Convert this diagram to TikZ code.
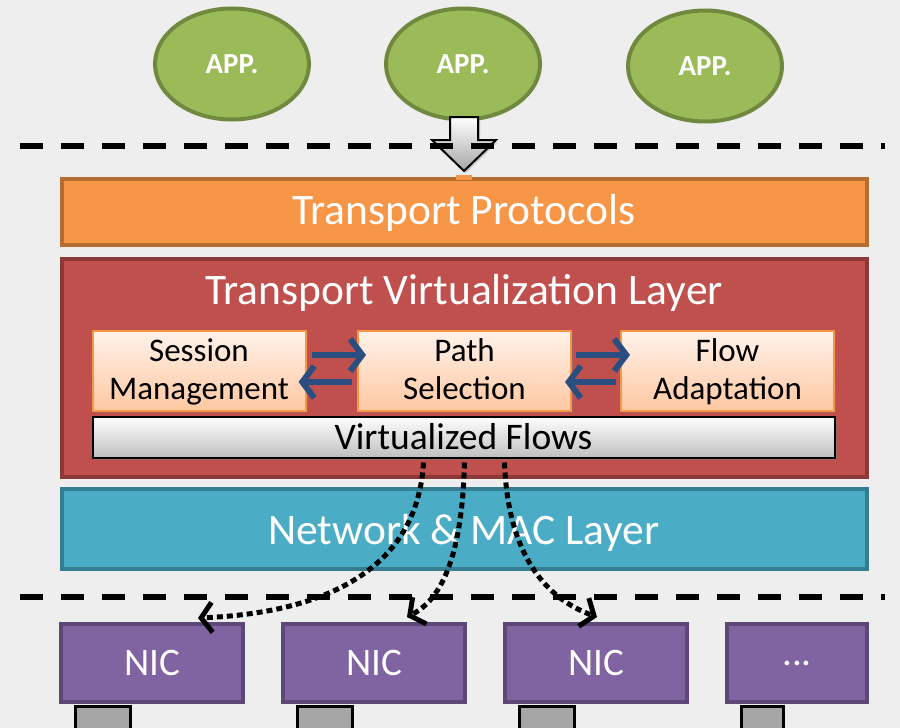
\documentclass[tikz,border=0pt]{standalone}
\usepackage{fontspec}
\setmainfont{Carlito}
\usetikzlibrary{arrows.meta,shadows,shapes.geometric}
\definecolor{bg}{HTML}{EEEEEE}
\definecolor{appfill}{HTML}{9BBB59}
\definecolor{appdraw}{HTML}{71893F}
\definecolor{tpfill}{HTML}{F79646}
\definecolor{tpdraw}{HTML}{B66D31}
\definecolor{tvfill}{HTML}{C0504D}
\definecolor{tvdraw}{HTML}{8C3836}
\definecolor{nmfill}{HTML}{4BACC6}
\definecolor{nmdraw}{HTML}{357D91}
\definecolor{nicfill}{HTML}{8064A2}
\definecolor{nicdraw}{HTML}{5C4776}
\definecolor{subtop}{HTML}{FFF2EA}
\definecolor{subbot}{HTML}{FFC8A2}
\definecolor{subdraw}{HTML}{F79646}
\definecolor{arrblue}{HTML}{2A4E80}
\definecolor{portgray}{HTML}{A6A6A6}
\tikzset{
  app/.style={ellipse, draw=appdraw, fill=appfill, line width=4pt,
    minimum width=154pt, minimum height=111pt, inner sep=0pt,
    text=white, font=\bfseries\fontsize{29}{34}\selectfont},
  layer/.style={draw, line width=4pt, minimum width=805pt, inner sep=0pt},
  layertext/.style={text=white, inner sep=0pt, font=\fontsize{43.5}{50}\selectfont},
  subbox/.style={draw=subdraw, line width=2pt, top color=subtop, bottom color=subbot,
    minimum width=213pt, minimum height=67pt, inner sep=0pt, align=center,
    font=\fontsize{33}{38}\selectfont,
    drop shadow={shadow xshift=2pt, shadow yshift=-2pt, opacity=0.35}},
  flowbox/.style={draw=black, line width=2pt, top color=white, bottom color=black!25,
    minimum width=742pt, minimum height=41pt, inner sep=0pt,
    font=\fontsize{37.5}{42}\selectfont,
    drop shadow={shadow xshift=2pt, shadow yshift=-2pt, opacity=0.45}},
  nic/.style={draw=nicdraw, fill=nicfill, line width=4pt, minimum height=78pt,
    inner sep=0pt, text=white, font=\fontsize{39}{44}\selectfont},
  port/.style={draw=black, fill=portgray, line width=2.5pt, minimum height=44pt,
    inner sep=0pt, anchor=north},
  sepline/.style={draw=black, line width=6pt, dash pattern=on 23pt off 18pt},
  barrow/.style={draw=arrblue, line width=6pt, -{Straight Barb[length=12pt,width=32pt]}},
  darrow/.style={draw=black, line width=5pt, dash pattern=on 6pt off 4pt,
    -{Straight Barb[length=11pt,width=30pt]}},
}
\begin{document}
\begin{tikzpicture}[x=1pt,y=-1pt]
\fill[bg] (0,0) rectangle (900,728);
\useasboundingbox (0,0) rectangle (900,728);

% applications
\node[app] (app1) at (232,64) {APP.};
\node[app] (app2) at (463,64) {APP.};
\node[app] (app3) at (705,66) {APP.};

% separator lines
\coordinate (s1a) at (20,146);
\coordinate (s1b) at (885,146);
\coordinate (s2a) at (20,597);
\coordinate (s2b) at (885,597);

% layers
\node[layer, fill=tpfill, draw=tpdraw, minimum height=66pt] (tp) at (464,212) {};
\node[layertext] (tpt) at (464,213) {Transport Protocols};
\node[layer, fill=tvfill, draw=tvdraw, minimum height=218pt] (tv) at (464,368) {};
\node[layertext] (tvt) at (464,293) {Transport Virtualization Layer};
\node[layer, fill=nmfill, draw=nmdraw, minimum height=80pt] (nm) at (464,529) {};
\node[layertext] (nmt) at (464,533) {Network \& MAC Layer};

% block arrow from applications to transport protocols
\shade[top color=white, bottom color=black!35, draw=black, line width=2pt,
  drop shadow={shadow xshift=2pt, shadow yshift=-2pt, opacity=0.3}]
  (450,117) -- (478,117) -- (478,140) -- (496,140) -- (464,171) -- (432,140) -- (450,140) -- cycle;

\draw[sepline] (s1a) -- (s1b);
\fill[tpfill] (456,175) rectangle (472,180);

% sub-modules
\node[subbox] (sm) at (199,371) {\rule{0pt}{30pt}Session\strut\\Management\strut};
\node[subbox] (ps) at (464.5,371) {\rule{0pt}{30pt}Path\strut\\Selection\strut};
\node[subbox] (fa) at (727.5,371) {\rule{0pt}{30pt}Flow\strut\\Adaptation\strut};
\node[flowbox] (vf) at (463.5,437) {Virtualized Flows};

\draw[barrow] ([xshift=5pt,yshift=16pt]sm.east) -- ([xshift=9pt,yshift=16pt]ps.west);
\draw[barrow] ([xshift=-5pt,yshift=-11pt]ps.west) -- ([xshift=-8pt,yshift=-11pt]sm.east);
\draw[barrow] ([xshift=4pt,yshift=16pt]ps.east) -- ([xshift=10pt,yshift=16pt]fa.west);
\draw[barrow] ([xshift=-4pt,yshift=-11pt]fa.west) -- ([xshift=-7pt,yshift=-11pt]ps.east);

\draw[sepline] (s2a) -- (s2b);

% NICs
\node[nic, minimum width=182pt] (nic1) at (152,663) {NIC};
\node[nic, minimum width=182pt] (nic2) at (374,663) {NIC};
\node[nic, minimum width=182pt] (nic3) at (596,663) {NIC};
\node[nic, minimum width=140pt] (nic4) at (797,663) {...};

\node[port, minimum width=55pt] (p1) at (103,705) {};
\node[port, minimum width=55pt] (p2) at (325,705) {};
\node[port, minimum width=55pt] (p3) at (547,705) {};
\node[port, minimum width=42pt] (p4) at (762.5,705) {};

% dotted flows
\draw[darrow] ([xshift=-40pt,yshift=-4pt]vf.south) .. controls (418,560) and (340,612) .. ([xshift=46pt,yshift=4pt]nic1.north);
\draw[darrow] ([xshift=1pt,yshift=-4pt]vf.south) .. controls (462,560) and (440,600) .. ([xshift=33pt,yshift=5pt]nic2.north);
\draw[darrow] ([xshift=41pt,yshift=-4pt]vf.south) .. controls (508,560) and (550,600) .. ([xshift=1pt,yshift=5pt]nic3.north);
\end{tikzpicture}
\end{document}
